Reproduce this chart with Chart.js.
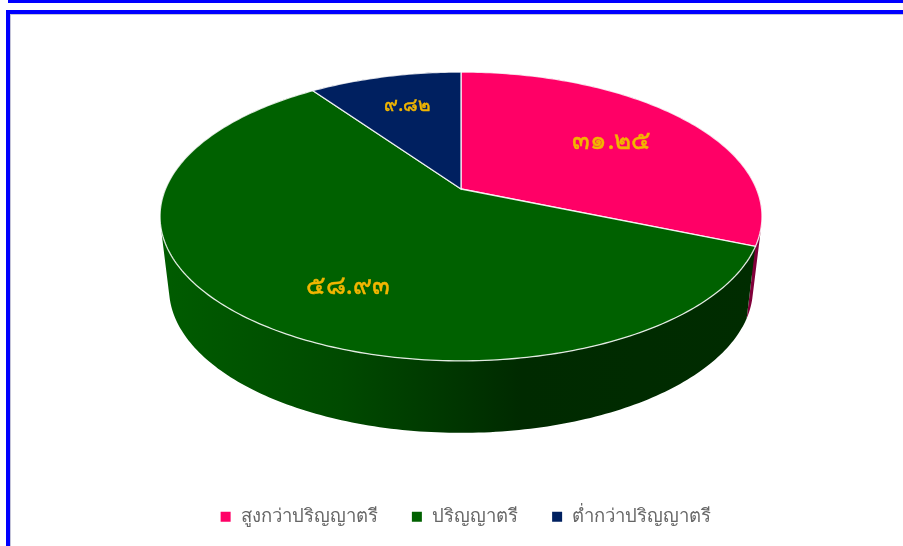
<!DOCTYPE html>
<html>
<head>
<meta charset="utf-8">
<script src="https://cdn.jsdelivr.net/npm/chart.js@4"></script>
<style>
  html, body { margin: 0; padding: 0; background: #fff; overflow: hidden; }
  #stripe { position: absolute; left: 8px; top: 0; width: 895px; height: 3px; background: #0000ff; }
  #frame { position: absolute; left: 6px; top: 10px; width: 920px; height: 560px; border: 4px solid #0000ff; box-shadow: inset 1px 1px 0 #c4c4d8; }
  #myChart { position: absolute; left: 0; top: 0; }
</style>
</head>
<body>
<div id="stripe"></div>
<div id="frame"></div>
<canvas id="myChart" width="903" height="546"></canvas>
<script>
var xValues = ["สูงกว่าปริญญาตรี", "ปริญญาตรี", "ต่ำกว่าปริญญาตรี"];
var yValues = [31.25, 58.93, 9.82];
var yLabels = ["๓๑.๒๕", "๕๘.๙๓", "๙.๘๒"];
var barColors = ["#FF0066", "#006100", "#002060"];

// the top of the pie is a disc seen in perspective, so it gets a projective
// mapping instead of a canvas scale (the apex is not the ellipse centre)
var top3d = { x: 461, y: 189, r: 295.5, k: 139.2, p: 0.19 };
var bottom3d = { x: 461, y: 261, r: 286.7, k: 139.2, p: 0.19 };

function project(d, a, rf) {
  var u = Math.cos(a) * rf, v = Math.sin(a) * rf, w = 1 - d.p * v;
  return { x: d.x + d.r * u / w, y: d.y + d.k * v / w };
}

function tracePoints(ctx, d, a0, a1, first) {
  var n = Math.ceil(Math.abs(a1 - a0) * 60);
  for (var i = 0; i <= n; i++) {
    var pt = project(d, a0 + (a1 - a0) * i / n, 1);
    if (i == 0 && first) ctx.moveTo(pt.x, pt.y);
    else ctx.lineTo(pt.x, pt.y);
  }
}

// wall as small quads, all wound the same way so the fill has no seams
// and the straight silhouette at the sides comes out by itself
function traceWall(ctx, a0, a1) {
  var n = Math.ceil((a1 - a0) * 60);
  for (var i = 0; i < n; i++) {
    var s = a0 + (a1 - a0) * i / n, e = a0 + (a1 - a0) * (i + 1) / n;
    var q = [project(top3d, s, 1), project(top3d, e, 1), project(bottom3d, e, 1), project(bottom3d, s, 1)];
    var area = 0;
    for (var j = 0; j < 4; j++) {
      var b = q[(j + 1) % 4];
      area += q[j].x * b.y - b.x * q[j].y;
    }
    if (area < 0) q.reverse();
    ctx.moveTo(q[0].x, q[0].y);
    ctx.lineTo(q[1].x, q[1].y);
    ctx.lineTo(q[2].x, q[2].y);
    ctx.lineTo(q[3].x, q[3].y);
    ctx.closePath();
  }
}

function wallFill(ctx, i) {
  var g = ctx.createLinearGradient(160, 0, 762, 0);
  if (i == 1) {
    g.addColorStop(0, "#005c00");
    g.addColorStop(0.3, "#004a00");
    g.addColorStop(0.6, "#002a00");
    g.addColorStop(1, "#002c00");
  } else if (i == 0) {
    g.addColorStop(0, "#a00048");
    g.addColorStop(1, "#80003a");
  } else {
    g.addColorStop(0, "#001030");
    g.addColorStop(1, "#001030");
  }
  return g;
}

var pie3d = {
  id: "pie3d",
  beforeDatasetsDraw: function (chart) {
    var ctx = chart.ctx;
    var arcs = chart.getDatasetMeta(0).data;
    ctx.save();
    // side wall, nearest slice last
    [0, 2, 1].forEach(function (i) {
      var arc = arcs[i];
      ctx.beginPath();
      traceWall(ctx, arc.startAngle, arc.endAngle);
      ctx.fillStyle = wallFill(ctx, i);
      ctx.fill();
    });
    // top of the disc
    arcs.forEach(function (arc, i) {
      ctx.beginPath();
      ctx.moveTo(top3d.x, top3d.y);
      tracePoints(ctx, top3d, arc.startAngle, arc.endAngle, false);
      ctx.closePath();
      ctx.fillStyle = barColors[i];
      ctx.fill();
      ctx.strokeStyle = "rgba(255,255,255,0.85)";
      ctx.lineWidth = 1.3;
      ctx.stroke();
    });
    // value labels
    ctx.textAlign = "center";
    ctx.textBaseline = "middle";
    ctx.fillStyle = "#F2B600";
    ctx.strokeStyle = "#F2B600";
    ctx.lineWidth = 0.5;
    var nudge = [[-5, 2], [26, 15], [1, -3]];
    arcs.forEach(function (arc, i) {
      var pt = project(top3d, (arc.startAngle + arc.endAngle) / 2, 0.68);
      ctx.font = (i == 2 ? "19px" : "26px") + " 'Noto Sans', sans-serif";
      ctx.fillText(yLabels[i], pt.x + nudge[i][0], pt.y + nudge[i][1]);
      ctx.strokeText(yLabels[i], pt.x + nudge[i][0], pt.y + nudge[i][1]);
    });
    ctx.restore();
    return false;
  },
};

new Chart("myChart", {
  type: "pie",
  data: {
    labels: xValues,
    datasets: [
      {
        backgroundColor: barColors,
        data: yValues,
      },
    ],
  },
  options: {
    responsive: false,
    animation: false,
    layout: { padding: { bottom: 10, left: 28 } },
    plugins: {
      tooltip: { enabled: false },
      legend: {
        position: "bottom",
        labels: {
          boxWidth: 12,
          boxHeight: 12,
          padding: 33,
          color: "#666666",
          font: { family: "'Noto Sans', sans-serif", size: 18.5 },
        },
      },
    },
  },
  plugins: [pie3d],
});
</script>
</body>
</html>
